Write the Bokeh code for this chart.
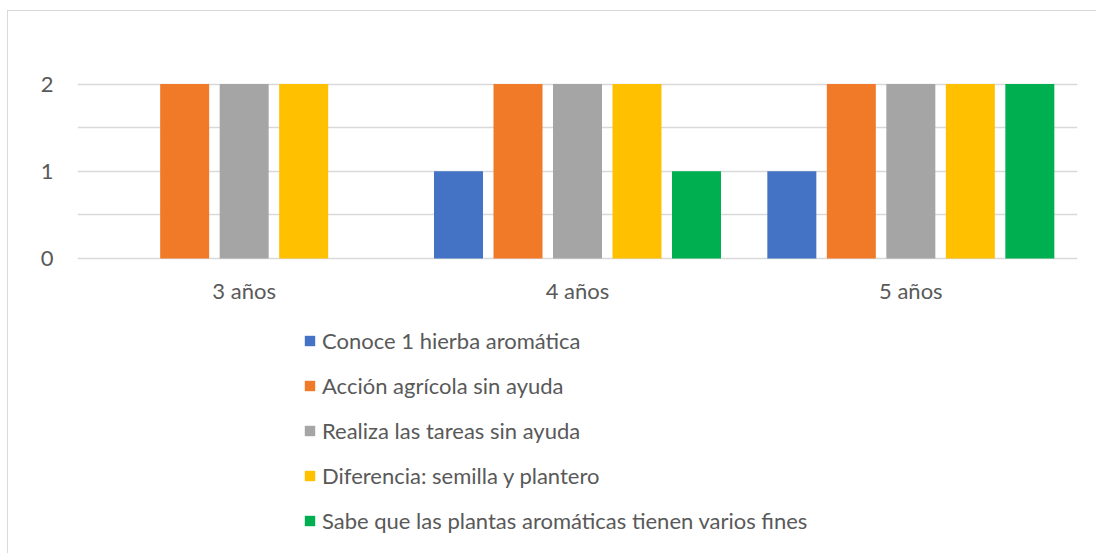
from bokeh.plotting import figure
from bokeh.models import FactorRange, Range1d, FixedTicker, Legend, LegendItem, ColumnDataSource
from bokeh.transform import dodge
from bokeh.embed import file_html
from bokeh.resources import INLINE

categories = ["3 años", "4 años", "5 años"]
series_names = [
    "Conoce 1 hierba aromática",
    "Acción agrícola sin ayuda",
    "Realiza las tareas sin ayuda",
    "Diferencia: semilla y plantero",
    "Sabe que las plantas aromáticas tienen varios fines",
]
conoce = [0, 1, 1]
accion = [2, 2, 2]
realiza = [2, 2, 2]
diferencia = [2, 2, 2]
sabe = [0, 1, 2]

y_ticks = [0, 1, 2]
grid_ticks = [0, 0.5, 1, 1.5, 2, 2.5]

colors = ["#4472C4", "#F07A28", "#A5A5A5", "#FFC000", "#00B050"]
FONT = "Lato"
TXT = "#595959"
FS = "22px"

src = ColumnDataSource(dict(cat=categories, s0=conoce, s1=accion, s2=realiza, s3=diferencia, s4=sabe))

FRAME_H = 513
PX_PER_UNIT = 87.2
y_top = 2.5
y_bottom = y_top - FRAME_H / PX_PER_UNIT

p = figure(x_range=FactorRange(*categories, range_padding=0), y_range=Range1d(y_bottom, y_top),
           frame_width=1000, frame_height=FRAME_H, output_backend="svg", toolbar_location=None,
           min_border_left=69, min_border_right=19, min_border_top=29, min_border_bottom=0)
p.styles = {"border-left": "1px solid #d9d9d9", "border-top": "1px solid #d9d9d9",
            "margin-left": "7px", "margin-top": "10px"}
p.outline_line_color = None

step = 0.1785
width = 0.147
renderers = []
for i, key in enumerate(["s0", "s1", "s2", "s3", "s4"]):
    r = p.vbar(x=dodge("cat", (i - 2) * step, range=p.x_range), top=key, width=width,
               bottom=0, source=src, fill_color=colors[i], line_color=None)
    renderers.append(r)

p.xgrid.grid_line_color = None
p.ygrid.ticker = FixedTicker(ticks=grid_ticks)
p.ygrid.grid_line_color = "#d9d9d9"
p.ygrid.grid_line_width = 1.5

p.yaxis.ticker = FixedTicker(ticks=y_ticks)
p.xaxis.fixed_location = 0
for ax in (p.xaxis[0], p.yaxis[0]):
    ax.axis_line_color = None
    ax.major_tick_line_color = None
    ax.minor_tick_line_color = None
    ax.major_label_text_font = FONT
    ax.major_label_text_font_size = FS
    ax.major_label_text_color = TXT
p.yaxis.major_label_standoff = 18
p.xaxis.major_label_standoff = 12

legend = Legend(items=[LegendItem(label=n, renderers=[r]) for n, r in zip(series_names, renderers)],
                orientation="vertical", location=(226, 19))
legend.label_text_font = FONT
legend.label_text_font_size = FS
legend.label_text_color = TXT
legend.glyph_width = 13
legend.glyph_height = 13
legend.label_standoff = 6
legend.spacing = 18
legend.label_height = 22
legend.padding = 0
legend.margin = 0
legend.border_line_color = None
legend.background_fill_alpha = 0
p.add_layout(legend, "center")

open("out.html", "w").write(file_html(p, INLINE))
